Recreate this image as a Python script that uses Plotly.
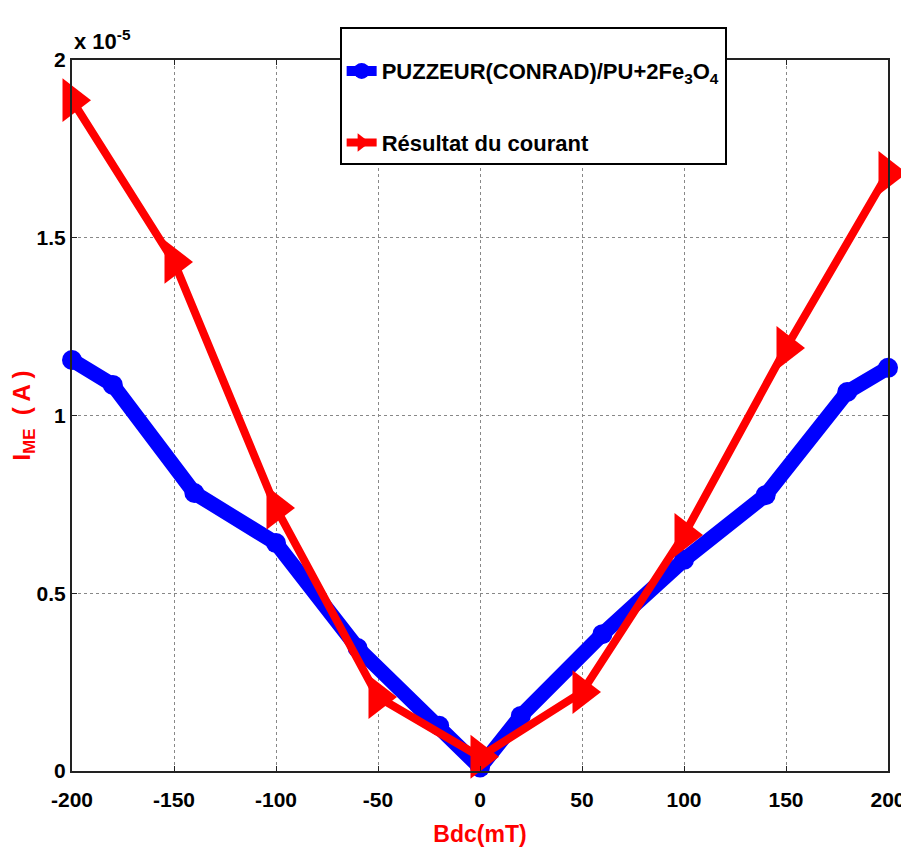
import plotly.graph_objects as go

# Values in units of 1e-5 A
blue_x = [-200, -180, -140, -100, -60, -20, 0, 20, 60, 100, 140, 180, 200]
blue_y = [1.156, 1.086, 0.782, 0.641, 0.346, 0.127, 0.01, 0.155, 0.385, 0.594, 0.776, 1.066, 1.134]
red_x = [-200, -150, -100, -50, 0, 50, 100, 150, 200]
red_y = [1.887, 1.432, 0.740, 0.208, 0.04, 0.222, 0.664, 1.19, 1.682]
x_ticks = [-200, -150, -100, -50, 0, 50, 100, 150, 200]
x_tick_text = ["-200", "-150", "-100", "-50", "0", "50", "100", "150", "200"]
y_ticks = [0, 0.5, 1, 1.5, 2]
y_tick_text = ["0", "0.5", "1", "1.5", "2"]

FONT = "Liberation Sans Narrow, Arial Narrow, Liberation Sans, Arial, sans-serif"

fig = go.Figure()
fig.add_trace(go.Scatter(
    x=blue_x, y=blue_y, mode="lines+markers",
    name="<b>PUZZEUR(CONRAD)/PU+2Fe<sub>3</sub>O<sub>4</sub></b>",
    legendgroup="a",
    line=dict(color="#0000ff", width=15),
    marker=dict(symbol="circle", size=20, color="#0000ff"),
    cliponaxis=False,
))
fig.add_trace(go.Scatter(
    x=red_x, y=red_y, mode="lines+markers",
    name="<b>Résultat du courant</b>",
    legendgroup="b",
    line=dict(color="#ff0000", width=8),
    marker=dict(symbol="triangle-right", size=38, color="#ff0000"),
    cliponaxis=False,
))

axis_common = dict(
    showline=True, linecolor="#222", linewidth=2, mirror="ticks",
    showgrid=True, gridcolor="#888", griddash="dot", gridwidth=1,
    ticks="inside", ticklen=5, tickcolor="#222", zeroline=False,
    tickfont=dict(family=FONT, size=21, color="black", weight="bold"),
)

# the page body adds ~8px offset, so the figure is slightly smaller than the window
fig.update_layout(
    width=901, height=852,
    margin=dict(l=64, r=21, t=52, b=89, autoexpand=False),
    paper_bgcolor="white", plot_bgcolor="white",
    font=dict(family=FONT, color="black"),
    xaxis=dict(range=[-200, 200], tickvals=x_ticks, ticktext=x_tick_text,
               ticklabelstandoff=9,
               title=dict(text="<b>Bdc(mT)</b>", font=dict(family=FONT, size=23, color="#ff0000"), standoff=16),
               **axis_common),
    yaxis=dict(range=[0, 2], tickvals=y_ticks, ticktext=y_tick_text,
               title=dict(text="<b>I<sub>ME</sub>  ( A )</b>", font=dict(family="Liberation Sans, Arial, sans-serif", size=24, color="#ff0000"), standoff=10),
               **axis_common),
    legend=dict(x=0.328, y=1.046, xanchor="left", yanchor="top",
                bgcolor="white", bordercolor="black", borderwidth=2,
                font=dict(family=FONT, size=22, color="black"),
                title=dict(text=" ", font=dict(size=16)),
                itemsizing="trace", tracegroupgap=40),
    showlegend=True,
)
fig.add_annotation(
    xref="paper", yref="paper", x=0.0, y=1.0, xanchor="left", yanchor="bottom",
    text="<b>x 10<sup>-5</sup></b>", showarrow=False,
    font=dict(family=FONT, size=22, color="black"), yshift=4,
)

fig.write_html("out.html")
